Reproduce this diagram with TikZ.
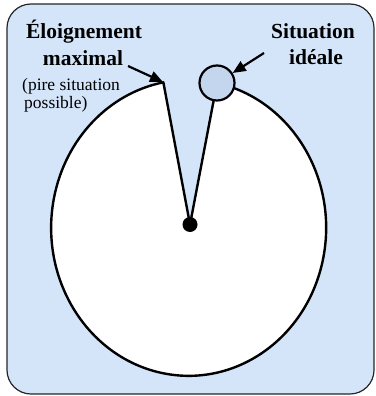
\documentclass[tikz,border=0pt]{standalone}
\usepackage{fontspec}
\setmainfont{Liberation Serif}
\usetikzlibrary{arrows.meta}
\definecolor{bgblue}{RGB}{212,229,250}
\definecolor{dotblue}{RGB}{196,214,238}
\begin{document}
\begin{tikzpicture}[x=1pt,y=1pt,
  lbl/.style={font=\fontsize{21.5}{24}\selectfont\bfseries, inner sep=0pt},
  sub/.style={font=\fontsize{17.5}{20}\selectfont, inner sep=0pt},
  edge/.style={line width=2.4pt, line join=round},
  arr/.style={line width=2.2pt, -{Triangle[length=13pt,width=11pt]}}]
\useasboundingbox (0,0) rectangle (375,-396);
\draw[fill=bgblue, draw=black!85, line width=1.2pt, rounded corners=24pt] (7,-4) rectangle (374,-394);
\coordinate (C) at (190,-224.5);
\coordinate (L) at (165,-83);
\coordinate (R) at (217,-83);
\filldraw[fill=white, edge] (C) -- (R) arc[start angle=78.1, end angle=-259.4, x radius=137.5, y radius=148] -- cycle;
\node[circle, fill=black, minimum size=15pt, inner sep=0pt] (dot) at (C) {};
\node[circle, draw, line width=2.2pt, fill=dotblue, minimum size=35pt, inner sep=0pt] (sc) at (R) {};
\node[lbl, anchor=base] (t1) at (84,-38) {Éloignement};
\node[lbl, anchor=base] (t2) at (83,-66) {maximal};
\node[sub, anchor=base west] (s1) at (22,-90) {(pire situation};
\node[sub, anchor=base west] (s2) at (24,-108) {possible)};
\node[lbl, anchor=base] (u1) at (313,-39) {Situation};
\node[lbl, anchor=base] (u2) at (316,-65) {idéale};
\coordinate (a1) at (128,-66);
\coordinate (a1e) at (163,-82);
\coordinate (a2) at (264,-53);
\draw[arr] (a1) -- (a1e);
\draw[arr] (a2) -- (sc);
\end{tikzpicture}
\end{document}
